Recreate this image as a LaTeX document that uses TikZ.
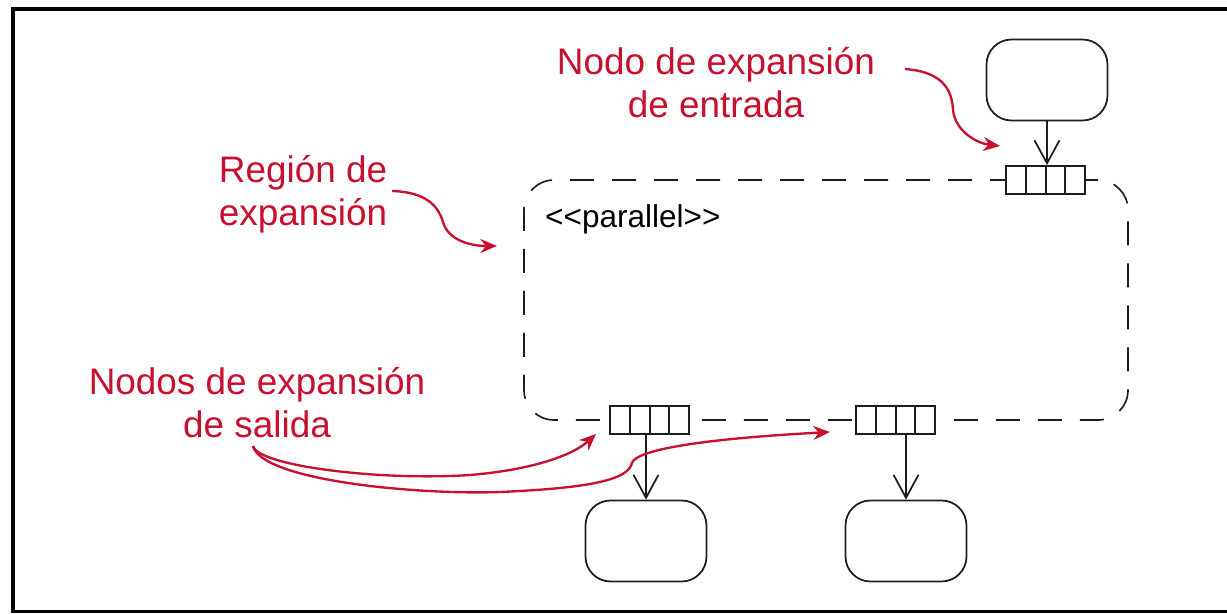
\documentclass[tikz,border=0pt]{standalone}
\usepackage{fontspec}
\setmainfont{Liberation Sans}
\usetikzlibrary{arrows.meta,calc}
\definecolor{annot}{RGB}{200,16,46}
\definecolor{ink}{RGB}{30,30,30}
\begin{document}
\begin{tikzpicture}[x=0.03cm,y=-0.03cm,
  blk/.style={line width=1.5pt, draw=ink},
  act/.style={blk, rounded corners=0.75cm, minimum width=3.63cm, minimum height=2.43cm, inner sep=0},
  pinbox/.style={blk, fill=white, minimum width=2.37cm, minimum height=0.84cm, inner sep=0,
    path picture={\foreach \i in {1,2,3}{\draw[line width=1.7pt, ink]
      ($(path picture bounding box.south west)!\i/4!(path picture bounding box.south east)$) --
      ($(path picture bounding box.north west)!\i/4!(path picture bounding box.north east)$);}}},
  region/.style={draw=ink, line width=1.4pt, dash pattern=on 0.72cm off 0.54cm, rounded corners=0.9cm,
    minimum width=18.12cm, minimum height=7.2cm, inner sep=0},
  flow/.style={blk, -{Straight Barb[length=0.69cm,width=0.75cm,line width=1.5pt]}},
  note/.style={text=annot, font=\fontsize{31.5pt}{35.9pt}\selectfont, align=center, inner sep=0},
  pointer/.style={draw=annot, line width=2pt, -{Stealth[length=0.5cm,width=0.42cm]}}
]
\useasboundingbox (0,0) rectangle (1227,613);
% frame
\draw[line width=2.6pt, black] (13,9) rectangle (1260,611.5);

% expansion region
\node[region] (reg) at (826,300) {};
\node[anchor=base west, inner sep=0, font=\fontsize{26.9pt}{30pt}\selectfont] (par) at (545,227)
  {\textless\kern0pt\textless\kern0pt parallel\textgreater\kern0pt\textgreater};

% activity nodes
\node[act] (top) at (1047,80) {};
\node[act] (b1) at (646,541) {};
\node[act] (b2) at (906,541) {};

% expansion nodes (pins)
\node[pinbox] (in) at (1045.5,180) {};
\node[pinbox] (out1) at (649.5,420) {};
\node[pinbox] (out2) at (895.5,420) {};

% flows
\draw[flow] (top.south) -- (top.south |- in.north);
\draw[flow] (out1.south -| b1.north) -- (b1.north);
\draw[flow] (out2.south -| b2.north) -- (b2.north);

% annotations
\node[note, anchor=base] (entlbl) at (716,117) {Nodo de expansión\\de entrada};
\node[note, anchor=base] (reglbl) at (303,225) {Región de\\expansión};
\node[note, anchor=base] (sallbl) at (257,437) {Nodos de expansión\\de salida};

\coordinate (es) at (905,69);
\coordinate (ee) at (1000,146);
\coordinate (rs) at (392,191);
\coordinate (re) at (497,246);
\coordinate (ss) at (253,446);
\coordinate (se1) at (596,434);
\coordinate (se2) at (830,432);

\draw[pointer] (es) .. controls (945,72) and (952,92) .. (953,110)
  .. controls (955,130) and (975,143) .. (ee);
\draw[pointer] (rs) .. controls (425,192) and (438,205) .. (443,222)
  .. controls (448,240) and (470,246) .. (re);
\draw[pointer] (ss) .. controls (258,466) and (380,481) .. (470,475)
  .. controls (530,470) and (572,456) .. (se1);
\draw[pointer] (ss) .. controls (262,481) and (420,495) .. (500,492)
  .. controls (590,488) and (628,480) .. (632,463)
  .. controls (636,450) and (700,439) .. (se2);
\end{tikzpicture}
\end{document}
